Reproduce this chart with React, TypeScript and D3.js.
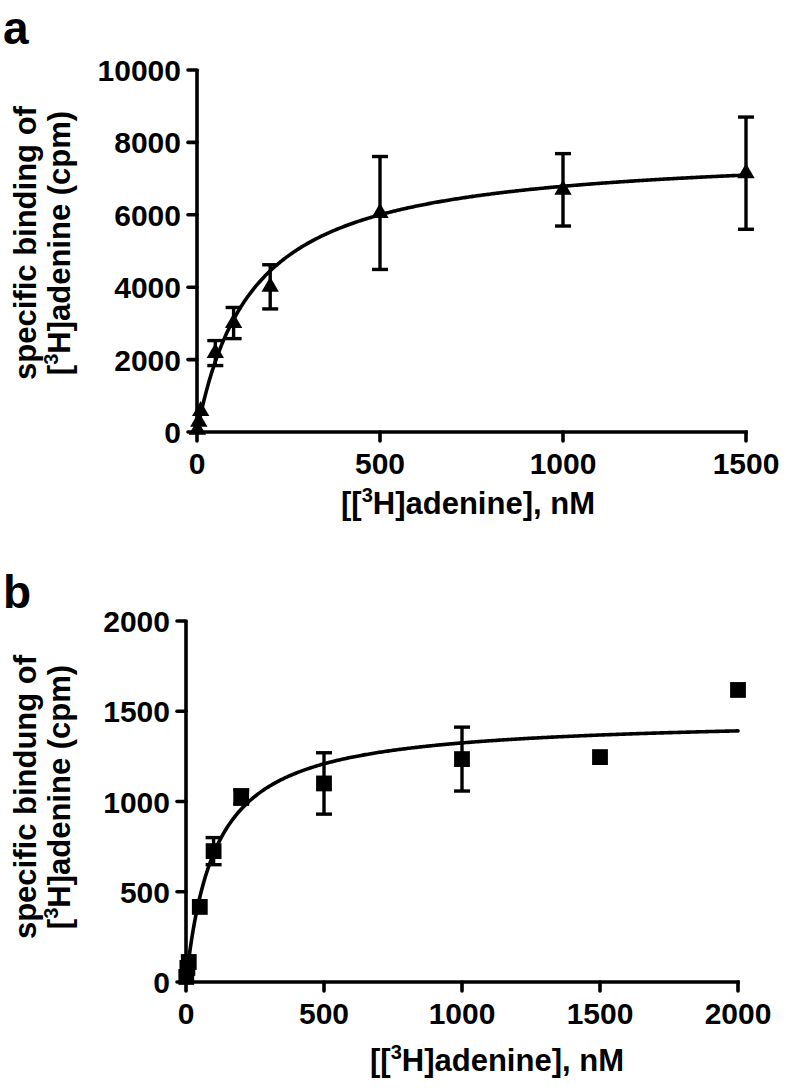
import React from "react";
import * as d3 from "d3";

// Panel a: [3H]adenine saturation (triangles)
const aConc = [1, 5, 10, 50, 100, 200, 500, 1000, 1500];
const aMean = [60, 280, 580, 2180, 3010, 4010, 6050, 6690, 7150];
const aErr = [0, 0, 0, 345, 430, 610, 1560, 1000, 1550];
const aXTicks = [0, 500, 1000, 1500];
const aYTicks = [0, 2000, 4000, 6000, 8000, 10000];
const aFit = { bmax: 7812, kd: 151 };

// Panel b: [3H]adenine saturation (squares)
const bConc = [1, 5, 10, 50, 100, 200, 500, 1000, 1500, 2000];
const bMean = [28, 78, 111, 416, 725, 1025, 1100, 1235, 1246, 1618];
const bErr = [0, 0, 0, 0, 75, 40, 170, 177, 0, 0];
const bXTicks = [0, 500, 1000, 1500, 2000];
const bYTicks = [0, 500, 1000, 1500, 2000];
const bFit = { bmax: 1465, kd: 106 };

const FONT = "'Liberation Sans', Arial, Helvetica, sans-serif";

type PanelProps = {
  letter: string;
  letterY: number;
  conc: number[];
  mean: number[];
  err: number[];
  xTicks: number[];
  yTicks: number[];
  fit: { bmax: number; kd: number };
  xRange: [number, number];
  yRange: [number, number];
  ylab1: string;
  symbol: d3.SymbolType;
  symbolSize: number;
  titleX: number;
  titleY: number;
  labelCenter: number;
};

function Panel(p: PanelProps) {
  const xMax = p.xTicks[p.xTicks.length - 1];
  const yMax = p.yTicks[p.yTicks.length - 1];
  const x = d3.scaleLinear().domain([0, xMax]).range(p.xRange);
  const y = d3.scaleLinear().domain([0, yMax]).range(p.yRange);
  const x0 = p.xRange[0];
  const y0 = p.yRange[0];
  const tick = 9;
  const sw = 3.6;
  const fitXs = d3.range(0, xMax + xMax / 400, xMax / 400);
  const line = d3
    .line<number>()
    .x((d) => x(d))
    .y((d) => y((p.fit.bmax * d) / (p.fit.kd + d)))
    .curve(d3.curveLinear);
  const sym = d3.symbol().type(p.symbol).size(p.symbolSize)();
  const cap = 8;
  return (
    <g>
      <text x={3} y={p.letterY} fontFamily={FONT} fontWeight="bold" fontSize={46}>
        {p.letter}
      </text>
      {/* y axis label */}
      <g transform={`translate(0, ${p.labelCenter}) rotate(-90)`}>
        <text x={0} y={36} textAnchor="middle" fontFamily={FONT} fontWeight="bold" fontSize={31}>
          {p.ylab1}
        </text>
        <text x={0} y={70} textAnchor="middle" fontFamily={FONT} fontWeight="bold" fontSize={31}>
          [<tspan dy={-12} fontSize={20}>3</tspan>
          <tspan dy={12}>H]adenine (cpm)</tspan>
        </text>
      </g>
      {/* axes */}
      <line x1={x0} x2={x0} y1={y(yMax) - 0.5} y2={y0 + sw / 2} stroke="#000" strokeWidth={sw} />
      <line x1={x0 - sw / 2} x2={x(xMax) + sw / 2} y1={y0} y2={y0} stroke="#000" strokeWidth={sw} />
      {p.yTicks.map((t) => (
        <g key={"y" + t}>
          <line x1={x0 - tick} x2={x0} y1={y(t)} y2={y(t)} stroke="#000" strokeWidth={sw} strokeLinecap="round" />
          <text x={x0 - 16} y={y(t) + 11} textAnchor="end" fontFamily={FONT} fontWeight="bold" fontSize={30}>
            {t}
          </text>
        </g>
      ))}
      {p.xTicks.map((t) => (
        <g key={"x" + t}>
          <line x1={x(t)} x2={x(t)} y1={y0} y2={y0 + tick} stroke="#000" strokeWidth={sw} strokeLinecap="round" />
          <text x={x(t)} y={y0 + 42} textAnchor="middle" fontFamily={FONT} fontWeight="bold" fontSize={30}>
            {t}
          </text>
        </g>
      ))}
      <text x={p.titleX} y={p.titleY} textAnchor="middle" fontFamily={FONT} fontWeight="bold" fontSize={31}>
        [[<tspan dy={-12} fontSize={20}>3</tspan>
        <tspan dy={12}>H]adenine], nM</tspan>
      </text>
      {/* fit curve */}
      <path d={line(fitXs) || ""} fill="none" stroke="#000" strokeWidth={3.6} strokeLinecap="round" />
      {/* error bars */}
      {p.conc.map((c, i) =>
        p.err[i] > 0 ? (
          <g key={"e" + i} stroke="#000" strokeWidth={3.4}>
            <line x1={x(c)} x2={x(c)} y1={y(p.mean[i] + p.err[i])} y2={y(p.mean[i] - p.err[i])} />
            <line x1={x(c) - cap} x2={x(c) + cap} y1={y(p.mean[i] + p.err[i])} y2={y(p.mean[i] + p.err[i])} />
            <line x1={x(c) - cap} x2={x(c) + cap} y1={y(p.mean[i] - p.err[i])} y2={y(p.mean[i] - p.err[i])} />
          </g>
        ) : null
      )}
      {/* markers */}
      {p.conc.map((c, i) => (
        <path key={"m" + i} d={sym || ""} transform={`translate(${x(c)}, ${y(p.mean[i])})`} fill="#000" />
      ))}
    </g>
  );
}

export default function App() {
  return (
    <svg width={786} height={1092} style={{ display: "block", position: "absolute", left: 0, top: 0, background: "#fff" }}>
      <rect width={786} height={1092} fill="#fff" />
      <Panel
        letter="a"
        letterY={44}
        conc={aConc}
        mean={aMean}
        err={aErr}
        xTicks={aXTicks}
        yTicks={aYTicks}
        fit={aFit}
        xRange={[197, 746]}
        yRange={[432, 70]}
        ylab1="specific binding of"
        symbol={d3.symbolTriangle}
        symbolSize={130}
        titleX={468}
        titleY={514}
        labelCenter={243}
      />
      <Panel
        letter="b"
        letterY={608}
        conc={bConc}
        mean={bMean}
        err={bErr}
        xTicks={bXTicks}
        yTicks={bYTicks}
        fit={bFit}
        xRange={[186, 738]}
        yRange={[982, 621]}
        ylab1="specific bindung of"
        symbol={d3.symbolSquare}
        symbolSize={250}
        titleX={497}
        titleY={1071}
        labelCenter={797}
      />
    </svg>
  );
}
